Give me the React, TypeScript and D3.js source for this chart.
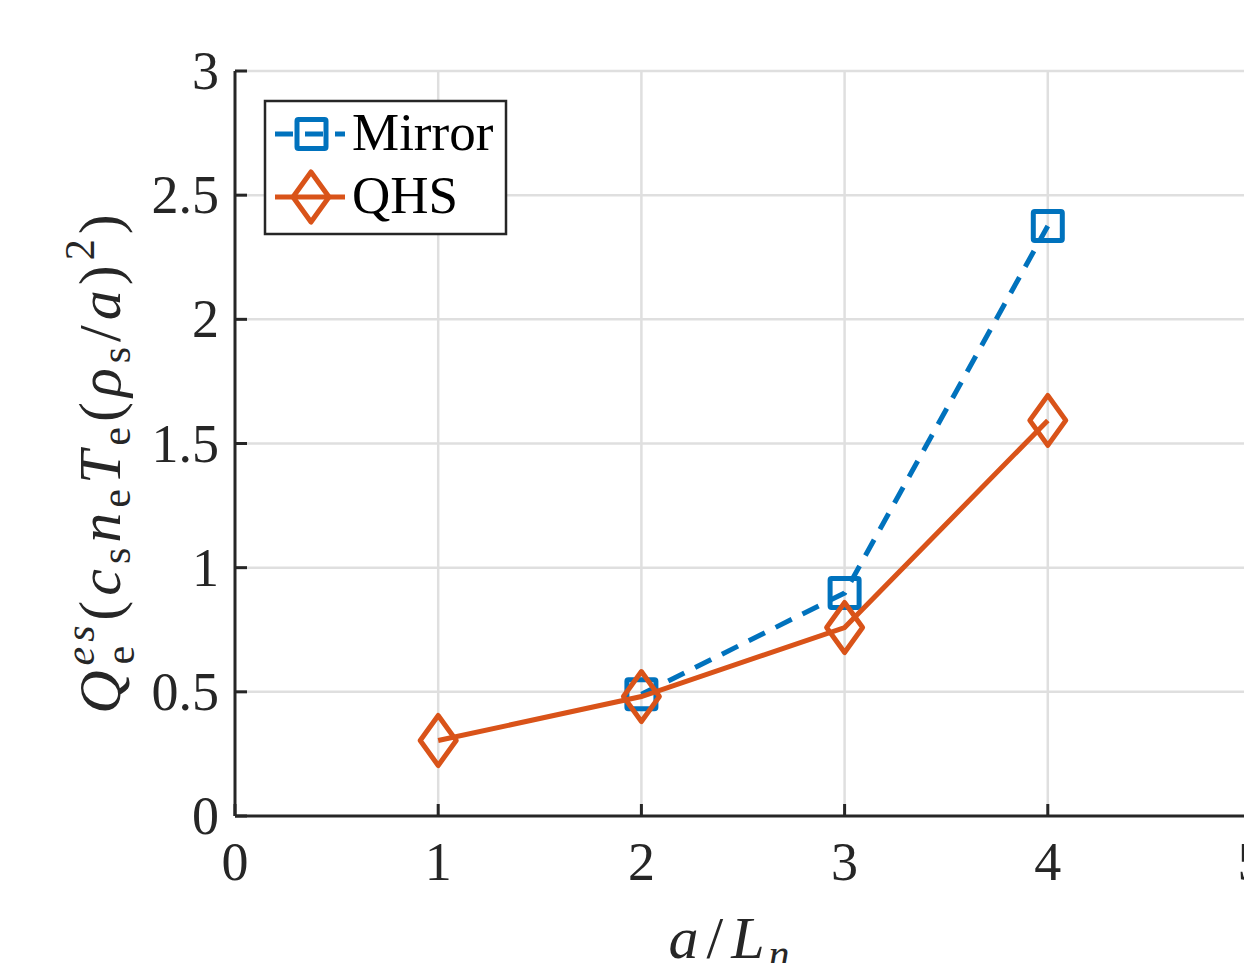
import React, { useEffect, useRef } from 'react';
import * as d3 from 'd3';

const xTicks = [0, 1, 2, 3, 4, 5];
const yTicks = [0, 0.5, 1, 1.5, 2, 2.5, 3];
const yTickLabels = ['0', '0.5', '1', '1.5', '2', '2.5', '3'];

const mirrorX = [2, 3, 4];
const mirrorY = [0.49, 0.898, 2.376];
const qhsX = [1, 2, 3, 4];
const qhsY = [0.304, 0.481, 0.759, 1.593];

const seriesNames = ['Mirror', 'QHS'];
const BLUE = '#0072BD';
const ORANGE = '#D95319';
const FONT = '"Liberation Serif", "DejaVu Serif", serif';

export default function App() {
  const ref = useRef<SVGSVGElement>(null);

  useEffect(() => {
    const svg = d3.select(ref.current);
    svg.selectAll('*').remove();
    const width = 1244, height = 963;
    const margin = { left: 235, top: 71, bottom: 147 };

    const x = d3.scaleLinear().domain([0, 5]).range([margin.left, 1251]);
    const y = d3.scaleLinear().domain([0, 3]).range([height - margin.bottom, margin.top]);

    // grid
    const grid = svg.append('g').attr('stroke', '#dfdfdf').attr('stroke-width', 2.5);
    grid.selectAll('.gx').data(xTicks.slice(1)).enter().append('line')
      .attr('x1', d => x(d)).attr('x2', d => x(d))
      .attr('y1', y(0)).attr('y2', y(3));
    grid.selectAll('.gy').data(yTicks.slice(1)).enter().append('line')
      .attr('x1', x(0)).attr('x2', width)
      .attr('y1', d => y(d)).attr('y2', d => y(d));

    // axes
    const axis = svg.append('g').attr('stroke', '#262626').attr('stroke-width', 3);
    axis.append('line').attr('x1', x(0)).attr('x2', width).attr('y1', y(0)).attr('y2', y(0));
    axis.append('line').attr('x1', x(0)).attr('x2', x(0)).attr('y1', y(0)).attr('y2', y(3));
    axis.selectAll('.tx').data(xTicks).enter().append('line')
      .attr('x1', d => x(d)).attr('x2', d => x(d))
      .attr('y1', y(0)).attr('y2', y(0) - 12);
    axis.selectAll('.ty').data(yTicks).enter().append('line')
      .attr('x1', x(0)).attr('x2', x(0) + 12)
      .attr('y1', d => y(d)).attr('y2', d => y(d));

    // tick labels
    svg.append('g').selectAll('text').data(xTicks).enter().append('text')
      .attr('x', d => x(d)).attr('y', y(0) + 64)
      .attr('text-anchor', 'middle')
      .attr('font-family', FONT).attr('font-size', 54).attr('fill', '#262626')
      .text(d => String(d));
    svg.append('g').selectAll('text').data(yTicks).enter().append('text')
      .attr('x', x(0) - 16).attr('y', d => y(d) + 18)
      .attr('text-anchor', 'end')
      .attr('font-family', FONT).attr('font-size', 54).attr('fill', '#262626')
      .text((d, i) => yTickLabels[i]);

    // series
    const mirrorPts = mirrorX.map((d, i) => [d, mirrorY[i]] as [number, number]);
    const qhsPts = qhsX.map((d, i) => [d, qhsY[i]] as [number, number]);
    const line = d3.line<[number, number]>().x(d => x(d[0])).y(d => y(d[1]));

    svg.append('path').datum(mirrorPts).attr('d', line)
      .attr('fill', 'none').attr('stroke', BLUE).attr('stroke-width', 5)
      .attr('stroke-dasharray', '18,12');
    svg.append('g').selectAll('rect').data(mirrorPts).enter().append('rect')
      .attr('x', d => x(d[0]) - 14.5).attr('y', d => y(d[1]) - 14.5)
      .attr('width', 29).attr('height', 29).attr('rx', 1.5)
      .attr('fill', 'none').attr('stroke', BLUE).attr('stroke-width', 5);

    const diamond = (cx: number, cy: number) =>
      `M${cx},${cy - 25}L${cx + 18},${cy}L${cx},${cy + 25}L${cx - 18},${cy}Z`;

    svg.append('path').datum(qhsPts).attr('d', line)
      .attr('fill', 'none').attr('stroke', ORANGE).attr('stroke-width', 5);
    svg.append('g').selectAll('path').data(qhsPts).enter().append('path')
      .attr('d', d => diamond(x(d[0]), y(d[1])))
      .attr('fill', 'none').attr('stroke', ORANGE).attr('stroke-width', 5)
      .attr('stroke-linejoin', 'round');

    // legend
    const lg = svg.append('g');
    lg.append('rect').attr('x', 265).attr('y', 101).attr('width', 241).attr('height', 133)
      .attr('fill', 'white').attr('stroke', '#262626').attr('stroke-width', 2.5);
    lg.append('line').attr('x1', 275).attr('x2', 345).attr('y1', 134).attr('y2', 134)
      .attr('stroke', BLUE).attr('stroke-width', 5).attr('stroke-dasharray', '18,12');
    lg.append('rect').attr('x', 297).attr('y', 119.5).attr('width', 29).attr('height', 29)
      .attr('rx', 1.5).attr('fill', 'none').attr('stroke', BLUE).attr('stroke-width', 5);
    lg.append('line').attr('x1', 275).attr('x2', 345).attr('y1', 197).attr('y2', 197)
      .attr('stroke', ORANGE).attr('stroke-width', 5);
    lg.append('path').attr('d', diamond(311, 197))
      .attr('fill', 'none').attr('stroke', ORANGE).attr('stroke-width', 5)
      .attr('stroke-linejoin', 'round');
    lg.selectAll('.lt').data(seriesNames).enter().append('text')
      .attr('x', 352).attr('y', (d, i) => 150 + i * 63)
      .attr('font-family', FONT).attr('font-size', 53).attr('fill', '#000')
      .text(d => d);

    // x label: a/L_n
    const xl = svg.append('text').attr('x', x(2.5) - 12).attr('y', 958)
      .attr('text-anchor', 'middle').attr('letter-spacing', 4)
      .attr('font-family', FONT).attr('font-size', 60).attr('fill', '#262626');
    xl.append('tspan').attr('font-style', 'italic').text('a');
    xl.append('tspan').attr('dx', 4).text('/');
    xl.append('tspan').attr('dx', 4).attr('font-style', 'italic').text('L');
    xl.append('tspan').attr('font-style', 'italic').attr('font-size', 42).attr('dy', 10).text('n');

    // y label: Q_e^{es}(c_s n_e T_e(rho_s/a)^2)
    const yl = svg.append('text')
      .attr('transform', `translate(120,${(y(0) + y(3)) / 2 + 18}) rotate(-90)`)
      .attr('text-anchor', 'middle').attr('letter-spacing', 5)
      .attr('font-family', FONT).attr('font-size', 60).attr('fill', '#262626');
    yl.append('tspan').attr('font-style', 'italic').text('Q');
    yl.append('tspan').attr('font-style', 'italic').attr('font-size', 42).attr('dy', -26).text('es');
    yl.append('tspan').attr('font-size', 42).attr('dx', -44).attr('dy', 40).text('e');
    yl.append('tspan').attr('dx', 20).attr('dy', -14).text('(');
    yl.append('tspan').attr('font-style', 'italic').text('c');
    yl.append('tspan').attr('font-size', 42).attr('dy', 10).text('s');
    yl.append('tspan').attr('font-style', 'italic').attr('dy', -10).text('n');
    yl.append('tspan').attr('font-size', 42).attr('dy', 10).text('e');
    yl.append('tspan').attr('font-style', 'italic').attr('dy', -10).text('T');
    yl.append('tspan').attr('font-size', 42).attr('dy', 10).text('e');
    yl.append('tspan').attr('dy', -10).text('(');
    yl.append('tspan').attr('font-style', 'italic').text('ρ');
    yl.append('tspan').attr('font-size', 42).attr('dy', 10).text('s');
    yl.append('tspan').attr('dy', -10).text('/');
    yl.append('tspan').attr('font-style', 'italic').text('a');
    yl.append('tspan').text(')');
    yl.append('tspan').attr('font-size', 42).attr('dy', -26).text('2');
    yl.append('tspan').attr('dy', 26).text(')');
  }, []);

  return (
    <div style={{ position: 'absolute', left: 0, top: 0 }}>
      <svg ref={ref} width={1244} height={963} style={{ display: 'block', background: 'white' }} />
    </div>
  );
}
